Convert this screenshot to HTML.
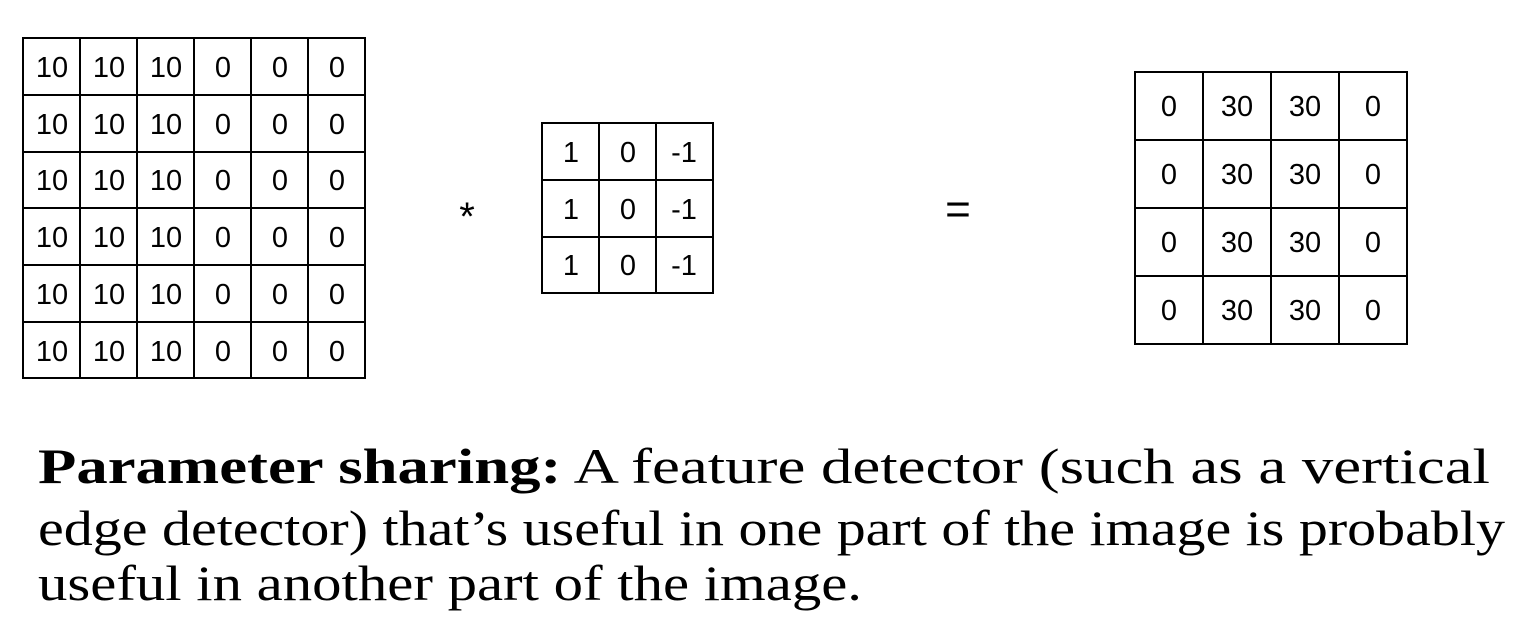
<!DOCTYPE html>
<html><head><meta charset="utf-8"><style>html,body{margin:0;padding:0;background:#fff;width:1535px;height:641px;overflow:hidden}</style></head>
<body>
<svg width="1535" height="641" xmlns="http://www.w3.org/2000/svg" font-family="Liberation Sans, sans-serif">
<rect width="1535" height="641" fill="#fff"/>
<g stroke="#000" stroke-width="2" fill="none">
<rect x="23" y="38" width="342" height="340"/>
<line x1="80" y1="38" x2="80" y2="378"/><line x1="137" y1="38" x2="137" y2="378"/><line x1="194" y1="38" x2="194" y2="378"/><line x1="251" y1="38" x2="251" y2="378"/><line x1="308" y1="38" x2="308" y2="378"/>
<line x1="23" y1="95" x2="365" y2="95"/><line x1="23" y1="152" x2="365" y2="152"/><line x1="23" y1="208" x2="365" y2="208"/><line x1="23" y1="265" x2="365" y2="265"/><line x1="23" y1="322" x2="365" y2="322"/>
<rect x="542" y="123" width="171" height="170"/>
<line x1="599" y1="123" x2="599" y2="293"/><line x1="656" y1="123" x2="656" y2="293"/>
<line x1="542" y1="180" x2="713" y2="180"/><line x1="542" y1="237" x2="713" y2="237"/>
<rect x="1135" y="72" width="272" height="272"/>
<line x1="1203" y1="72" x2="1203" y2="344"/><line x1="1271" y1="72" x2="1271" y2="344"/><line x1="1339" y1="72" x2="1339" y2="344"/>
<line x1="1135" y1="140" x2="1407" y2="140"/><line x1="1135" y1="208" x2="1407" y2="208"/><line x1="1135" y1="276" x2="1407" y2="276"/>
</g>
<g font-size="29" text-anchor="middle" fill="#000">
<g id="r"><text x="52" y="77">10</text><text x="109" y="77">10</text><text x="166" y="77">10</text><text x="223" y="77">0</text><text x="280" y="77">0</text><text x="337" y="77">0</text></g>
<use href="#r" y="57"/><use href="#r" y="113"/><use href="#r" y="170"/><use href="#r" y="227"/><use href="#r" y="284"/>
<g id="f"><text x="571" y="162">1</text><text x="628" y="162">0</text><text x="684" y="162">-1</text></g>
<use href="#f" y="57"/><use href="#f" y="113"/>
<g id="o"><text x="1169" y="116">0</text><text x="1237" y="116">30</text><text x="1305" y="116">30</text><text x="1373" y="116">0</text></g>
<use href="#o" y="68"/><use href="#o" y="136"/><use href="#o" y="204"/>
<text x="467" y="230" font-size="40">*</text>
<text x="958" y="224" font-size="44">=</text>
</g>
<g font-family="Liberation Serif, serif" font-size="50" fill="#000">
<text x="38" y="483" textLength="1452" lengthAdjust="spacingAndGlyphs"><tspan font-weight="bold">Parameter sharing:</tspan> A feature detector (such as a vertical</text>
<text x="38" y="545" textLength="1467" lengthAdjust="spacingAndGlyphs">edge detector) that’s useful in one part of the image is probably</text>
<text x="38" y="600" textLength="824" lengthAdjust="spacingAndGlyphs">useful in another part of the image.</text>
</g>
</svg>
</body></html>
